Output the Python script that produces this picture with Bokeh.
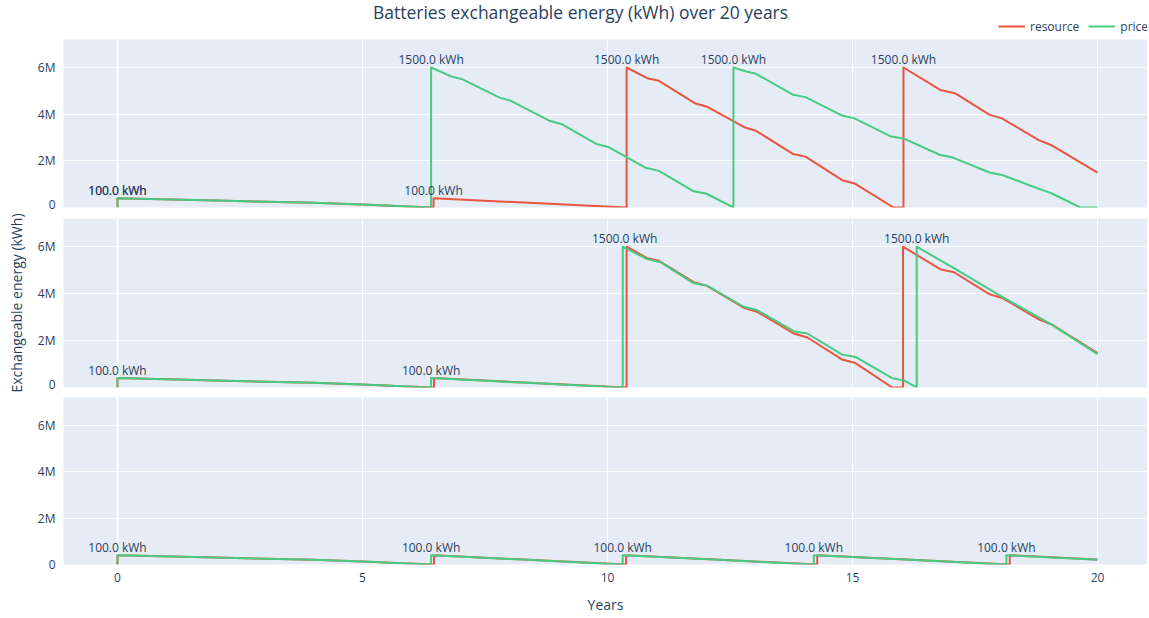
from bokeh.plotting import figure
from bokeh.layouts import column
from bokeh.models import (ColumnDataSource, Range1d, FixedTicker, Legend,
                          LegendItem, Label, Span)
from bokeh.core.properties import value
from bokeh.embed import file_html
from bokeh.resources import INLINE

# ---------------- texts / ticks ----------------
TITLE = "Batteries exchangeable energy (kWh) over 20 years"
X_LABEL = "Years"
Y_LABEL = "Exchangeable energy (kWh)"
SERIES = ["resource", "price"]
COLORS = {"resource": "#E9553F", "price": "#48CA80"}
X_TICKS = [0, 5, 10, 15, 20]
X_TICK_LABELS = ["0", "5", "10", "15", "20"]
Y_TICKS = [0, 2000000, 4000000, 6000000]
Y_TICK_LABELS = ["0", "2M", "4M", "6M"]

# ---------------- panel 1 (top) ----------------
p1_resource_t = [0, 0, 2, 4, 5, 6.40, 6.45, 6.45, 8.4, 10.39, 10.39,
                 10.81, 11.05, 11.78, 12.03, 12.79, 13.03, 13.79, 14.04, 14.79, 15.04, 15.84, 16.04, 16.04,
                 16.79, 17.09, 17.80, 18.05, 18.80, 19.05, 20.0]
p1_resource_e = [0, 0.40e6, 0.30e6, 0.20e6, 0.13e6, 0, 0, 0.40e6, 0.20e6, 0, 6.0e6,
                 5.54e6, 5.43e6, 4.47e6, 4.32e6, 3.44e6, 3.29e6, 2.29e6, 2.18e6, 1.17e6, 1.03e6, 0, 0, 6.0e6,
                 5.04e6, 4.90e6, 3.97e6, 3.82e6, 2.89e6, 2.68e6, 1.49e6]
p1_price_t = [0, 0, 2, 4, 5, 6.40, 6.40,
              6.82, 7.02, 7.80, 8.02, 8.81, 9.06, 9.78, 10.03, 10.78, 11.05, 11.75, 12.01, 12.57, 12.57,
              12.83, 13.03, 13.79, 14.04, 14.79, 15.04, 15.79, 16.04, 16.79, 17.05, 17.80, 18.07, 18.82,
              19.06, 19.65, 20.0]
p1_price_e = [0, 0.40e6, 0.30e6, 0.20e6, 0.13e6, 0, 6.0e6,
              5.61e6, 5.51e6, 4.71e6, 4.58e6, 3.72e6, 3.58e6, 2.72e6, 2.58e6, 1.70e6, 1.57e6, 0.70e6, 0.60e6, 0, 6.0e6,
              5.83e6, 5.73e6, 4.83e6, 4.73e6, 3.94e6, 3.82e6, 3.04e6, 2.96e6, 2.25e6, 2.14e6, 1.50e6, 1.38e6, 0.79e6,
              0.61e6, 0, 0]
p1_ann_t = [0, 0, 6.45, 6.40, 10.39, 12.57, 16.04]
p1_ann_e = [0.4e6, 0.4e6, 0.4e6, 6.0e6, 6.0e6, 6.0e6, 6.0e6]
p1_ann_text = ["100.0 kWh", "100.0 kWh", "100.0 kWh", "1500.0 kWh", "1500.0 kWh", "1500.0 kWh", "1500.0 kWh"]

# ---------------- panel 2 (middle) ----------------
p2_resource_t = [0, 0, 2, 4, 5, 6.40, 6.46, 6.46, 8.4, 10.39, 10.39,
                 10.81, 11.05, 11.76, 12.03, 12.78, 13.05, 13.80, 14.08, 14.79, 15.06, 15.81, 16.03, 16.03,
                 16.79, 17.07, 17.80, 18.07, 18.82, 19.07, 20.0]
p2_resource_e = [0, 0.40e6, 0.30e6, 0.20e6, 0.13e6, 0, 0, 0.40e6, 0.20e6, 0, 6.0e6,
                 5.51e6, 5.40e6, 4.49e6, 4.33e6, 3.40e6, 3.23e6, 2.30e6, 2.13e6, 1.19e6, 1.04e6, 0, 0, 6.0e6,
                 5.04e6, 4.91e6, 3.97e6, 3.80e6, 2.88e6, 2.68e6, 1.47e6]
p2_price_t = [0, 0, 2, 4, 5, 6.40, 6.40, 8.35, 10.31, 10.31,
              10.81, 11.08, 11.76, 12.03, 12.78, 13.05, 13.80, 14.08, 14.79, 15.06, 15.81, 16.05, 16.31, 16.31,
              17.13, 18.09, 19.03, 20.0]
p2_price_e = [0, 0.40e6, 0.30e6, 0.20e6, 0.13e6, 0, 0.40e6, 0.20e6, 0, 6.0e6,
              5.47e6, 5.34e6, 4.44e6, 4.34e6, 3.44e6, 3.30e6, 2.40e6, 2.30e6, 1.40e6, 1.30e6, 0.40e6, 0.30e6, 0, 6.0e6,
              5.01e6, 3.82e6, 2.72e6, 1.42e6]
p2_ann_t = [0, 6.40, 10.35, 16.31]
p2_ann_e = [0.4e6, 0.4e6, 6.0e6, 6.0e6]
p2_ann_text = ["100.0 kWh", "100.0 kWh", "1500.0 kWh", "1500.0 kWh"]

# ---------------- panel 3 (bottom) ----------------
p3_resource_t = [0, 0, 2, 4, 5, 6.40, 6.46, 6.46, 8.4, 10.38, 10.38, 12.3, 14.28, 14.28, 16.2, 18.21, 18.21, 20.0]
p3_resource_e = [0, 0.40e6, 0.30e6, 0.20e6, 0.13e6, 0, 0, 0.40e6, 0.20e6, 0, 0.40e6, 0.20e6, 0, 0.40e6,
                 0.20e6, 0, 0.40e6, 0.22e6]
p3_price_t = [0, 0, 2, 4, 5, 6.40, 6.40, 8.35, 10.31, 10.31, 12.26, 14.21, 14.21, 16.17, 18.14, 18.14, 20.0]
p3_price_e = [0, 0.40e6, 0.30e6, 0.20e6, 0.13e6, 0, 0.40e6, 0.20e6, 0, 0.40e6, 0.20e6, 0, 0.40e6, 0.20e6,
              0, 0.40e6, 0.21e6]
p3_ann_t = [0, 6.40, 10.31, 14.21, 18.14]
p3_ann_e = [0.4e6, 0.4e6, 0.4e6, 0.4e6, 0.4e6]
p3_ann_text = ["100.0 kWh", "100.0 kWh", "100.0 kWh", "100.0 kWh", "100.0 kWh"]

# ---------------- styling ----------------
FONT = "Open Sans"
TXT = "#2a3f5f"
BG = "#E5ECF6"
W = 1147
LEFT = 63
X_RANGE = Range1d(-1.102, 21.02)
Y_RANGE = Range1d(0, 7.2e6)


def style_axis(ax, ticks, labels):
    ax.ticker = FixedTicker(ticks=ticks)
    ax.major_label_overrides = dict(zip(ticks, labels))
    ax.axis_line_color = None
    ax.major_tick_line_color = None
    ax.minor_tick_line_color = None
    ax.major_label_standoff = 2
    ax.major_label_text_font = FONT
    ax.major_label_text_font_size = "12px"
    ax.major_label_text_color = TXT


def style_label(ax, text, standoff):
    ax.axis_label = text
    ax.axis_label_text_font = FONT
    ax.axis_label_text_font_size = "14px"
    ax.axis_label_text_font_style = "normal"
    ax.axis_label_text_color = TXT
    ax.axis_label_standoff = standoff


def make_panel(res_t, res_e, pri_t, pri_e, ann_t, ann_e, ann_text,
               height, top, bottom, show_x=False, ylabel=None):
    p = figure(width=W, height=height, x_range=X_RANGE, y_range=Y_RANGE,
               title=None, output_backend="svg", toolbar_location=None,
               x_axis_location="below" if show_x else None,
               min_border_left=LEFT, min_border_right=0,
               min_border_top=top, min_border_bottom=bottom,
               background_fill_color=BG, border_fill_color="white",
               outline_line_color=None)
    p.xgrid.ticker = FixedTicker(ticks=X_TICKS)
    p.ygrid.ticker = FixedTicker(ticks=Y_TICKS)
    p.xgrid.grid_line_color = "white"
    p.ygrid.grid_line_color = "white"
    p.xgrid.grid_line_width = 1
    p.ygrid.grid_line_width = 1
    p.add_layout(Span(location=0, dimension="height", line_color="white",
                      line_width=2, level="underlay"))
    style_axis(p.yaxis[0], Y_TICKS, Y_TICK_LABELS)
    if ylabel:
        style_label(p.yaxis[0], ylabel, 9)
    if show_x:
        style_axis(p.xaxis[0], X_TICKS, X_TICK_LABELS)
        style_label(p.xaxis[0], X_LABEL, 10)

    src_r = ColumnDataSource(dict(t=res_t, e=res_e))
    src_p = ColumnDataSource(dict(t=pri_t, e=pri_e))
    p.line("t", "e", source=src_r, line_color=COLORS["resource"], line_width=2, line_join="round")
    p.line("t", "e", source=src_p, line_color=COLORS["price"], line_width=2, line_join="round")
    src_a = ColumnDataSource(dict(t=ann_t, e=ann_e, label=ann_text))
    p.text(x="t", y="e", text="label", source=src_a, text_align="center",
           text_baseline="alphabetic", y_offset=-8,
           text_font=value(FONT), text_font_size=value("12px"), text_color=TXT)
    return p


# ---------------- header (title + legend) ----------------
header = figure(width=W, height=39, x_range=Range1d(0, W - LEFT), y_range=Range1d(0, 39),
                title=None, output_backend="svg", toolbar_location=None,
                x_axis_location=None, y_axis_location=None,
                min_border_left=LEFT, min_border_right=0,
                min_border_top=0, min_border_bottom=0,
                outline_line_color=None, background_fill_color="white",
                border_fill_color="white")
header.xgrid.visible = False
header.ygrid.visible = False
header.add_layout(Label(x=517, y=28, text=TITLE, text_align="center",
                        text_baseline="alphabetic", text_font=FONT,
                        text_font_size="17.5px", text_color=TXT))
# legend swatches: the top panel's series drawn on a range that keeps them out of view
header.extra_y_ranges = {"hidden": Range1d(1e12, 2e12)}
leg_r = header.line(x=p1_resource_t, y=p1_resource_e, y_range_name="hidden",
                    line_color=COLORS["resource"], line_width=2)
leg_p = header.line(x=p1_price_t, y=p1_price_e, y_range_name="hidden",
                    line_color=COLORS["price"], line_width=2)
legend = Legend(items=[LegendItem(label=SERIES[0], renderers=[leg_r]),
                       LegendItem(label=SERIES[1], renderers=[leg_p])],
                orientation="horizontal", location=(935, 3),
                glyph_width=27, glyph_height=20, label_standoff=5, spacing=9,
                padding=0, margin=0, border_line_color=None,
                background_fill_alpha=0, label_text_font=FONT,
                label_text_font_size="12px", label_text_color=TXT)
header.add_layout(legend)

f1 = make_panel(p1_resource_t, p1_resource_e, p1_price_t, p1_price_e,
                p1_ann_t, p1_ann_e, p1_ann_text, height=173, top=0, bottom=5)
f2 = make_panel(p2_resource_t, p2_resource_e, p2_price_t, p2_price_e,
                p2_ann_t, p2_ann_e, p2_ann_text, height=180, top=6, bottom=5,
                ylabel=Y_LABEL)
f3 = make_panel(p3_resource_t, p3_resource_e, p3_price_t, p3_price_e,
                p3_ann_t, p3_ann_e, p3_ann_text, height=224, top=5, bottom=49,
                show_x=True)

layout = column(header, f1, f2, f3)
open("out.html", "w").write(file_html(layout, INLINE))
